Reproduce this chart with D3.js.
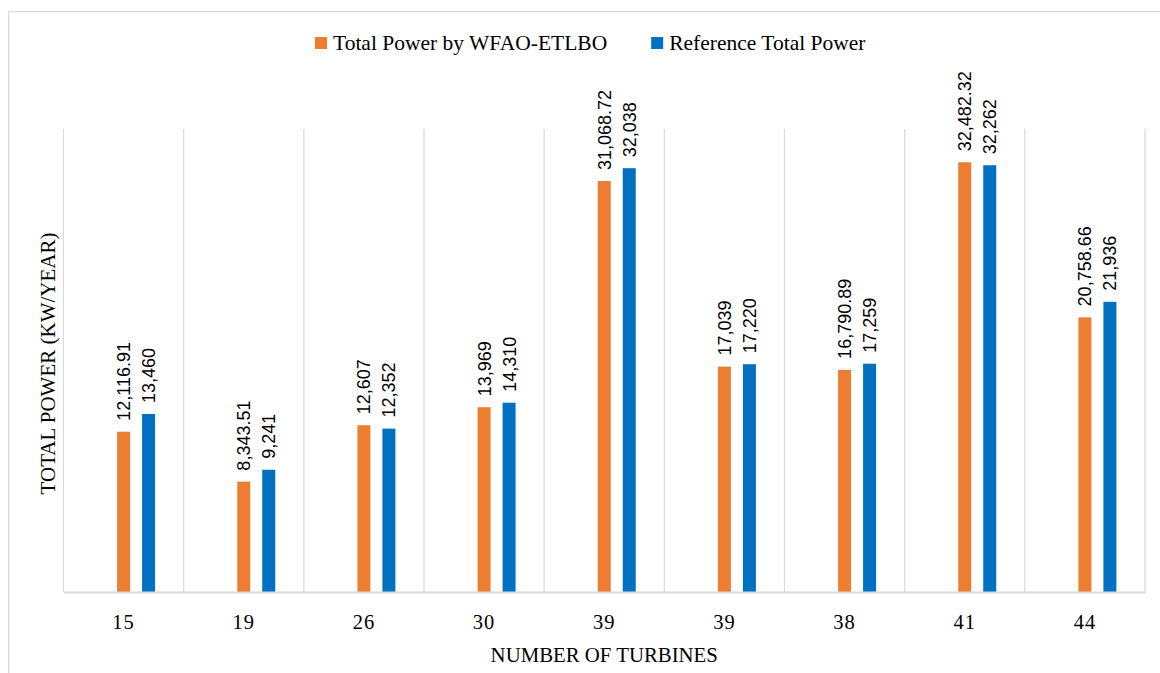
<!DOCTYPE html>
<html>
<head>
<meta charset="utf-8">
<script src="https://cdn.jsdelivr.net/npm/d3@7"></script>
<style>
  html, body { margin: 0; padding: 0; background: #fff; }
  svg { display: block; }
</style>
</head>
<body>
<svg id="chart" width="1160" height="673"></svg>
<script>
// ---- data ----
const categories = ["15", "19", "26", "30", "39", "39", "38", "41", "44"];
const wfaoPower = [12116.91, 8343.51, 12607, 13969, 31068.72, 17039, 16790.89, 32482.32, 20758.66];
const refPower = [13460, 9241, 12352, 14310, 32038, 17220, 17259, 32262, 21936];
const seriesNames = ["Total Power by WFAO-ETLBO", "Reference Total Power"];
const seriesColors = ["#ED7D31", "#0070C0"];
const yMax = 35000;

const svg = d3.select("#chart");
const W = 1160, H = 673;
const margin = { left: 63.5, right: 1145, top: 129, bottom: 592 };

// outer frame (left and top edges visible)
svg.append("line").attr("x1", 8.7).attr("x2", 8.7).attr("y1", 11.7).attr("y2", H)
  .attr("stroke", "#d9d9d9").attr("stroke-width", 1.3);
svg.append("line").attr("x1", 8.7).attr("x2", W).attr("y1", 11.7).attr("y2", 11.7)
  .attr("stroke", "#d9d9d9").attr("stroke-width", 1.3);

const idx = categories.map((d, i) => i);
const x = d3.scaleBand().domain(idx).range([margin.left, margin.right]).padding(0);
// three slots per category, the first one unused (as in the source layout)
const slots = ["_", "wfao", "ref"];
const x1 = d3.scaleBand().domain(slots).range([0, x.bandwidth()]).paddingInner(0.48).paddingOuter(1.144);
const y = d3.scaleLinear().domain([0, yMax]).range([margin.bottom, margin.top]);

// vertical gridlines at category boundaries
const bounds = idx.map(i => x(i)).concat([margin.right]);
svg.append("g").selectAll("line").data(bounds).join("line")
  .attr("x1", d => d).attr("x2", d => d)
  .attr("y1", margin.top).attr("y2", margin.bottom)
  .attr("stroke", "#d9d9d9").attr("stroke-width", 1.2);

// bars
const rows = idx.map(i => ({ i, vals: [
  { key: "wfao", v: wfaoPower[i], c: seriesColors[0] },
  { key: "ref", v: refPower[i], c: seriesColors[1] }
]}));

const groups = svg.append("g").selectAll("g").data(rows).join("g")
  .attr("transform", d => `translate(${x(d.i)},0)`);

groups.selectAll("rect").data(d => d.vals).join("rect")
  .attr("x", d => x1(d.key))
  .attr("width", x1.bandwidth())
  .attr("y", d => y(d.v))
  .attr("height", d => y(0) - y(d.v))
  .attr("fill", d => d.c);

const fmt = d3.format(",");
groups.selectAll("text").data(d => d.vals).join("text")
  .attr("transform", d => `translate(${x1(d.key) + x1.bandwidth() / 2 + 6.5},${y(d.v) - 11}) rotate(-90)`)
  .attr("text-anchor", "start")
  .attr("font-family", "'Liberation Sans', Arial, sans-serif")
  .attr("font-size", 18)
  .attr("fill", "#000")
  .text(d => fmt(d.v));

// x axis
const xAxis = d3.axisBottom(x).tickSize(0).tickFormat(i => categories[i]);
const gx = svg.append("g").attr("transform", `translate(0,${margin.bottom})`).call(xAxis);
gx.select(".domain").attr("stroke", "#d9d9d9").attr("stroke-width", 2);
gx.selectAll("text")
  .attr("y", 37).attr("dy", 0)
  .attr("font-family", "'Liberation Serif', 'Times New Roman', serif")
  .attr("font-size", 20.5)
  .attr("letter-spacing", 1)
  .attr("fill", "#000");

// axis titles
svg.append("text")
  .attr("x", (margin.left + margin.right) / 2).attr("y", 662)
  .attr("text-anchor", "middle")
  .attr("font-family", "'Liberation Serif', 'Times New Roman', serif")
  .attr("font-size", 20.8).attr("fill", "#000")
  .text("NUMBER OF TURBINES");

svg.append("text")
  .attr("transform", `translate(55,${(margin.top + margin.bottom) / 2 + 3}) rotate(-90)`)
  .attr("text-anchor", "middle")
  .attr("font-family", "'Liberation Serif', 'Times New Roman', serif")
  .attr("font-size", 21).attr("fill", "#000")
  .text("TOTAL POWER (KW/YEAR)");

// legend
const lg = svg.append("g");
let lx = 315;
seriesNames.forEach((name, k) => {
  lg.append("rect").attr("x", lx).attr("y", 37).attr("width", 12).attr("height", 12)
    .attr("fill", seriesColors[k]);
  const t = lg.append("text").attr("x", lx + 18).attr("y", 50)
    .attr("font-family", "'Liberation Serif', 'Times New Roman', serif")
    .attr("font-size", 21.5).attr("fill", "#000")
    .text(name);
  lx = lx + 18 + t.node().getComputedTextLength() + 44;
});
</script>
</body>
</html>
